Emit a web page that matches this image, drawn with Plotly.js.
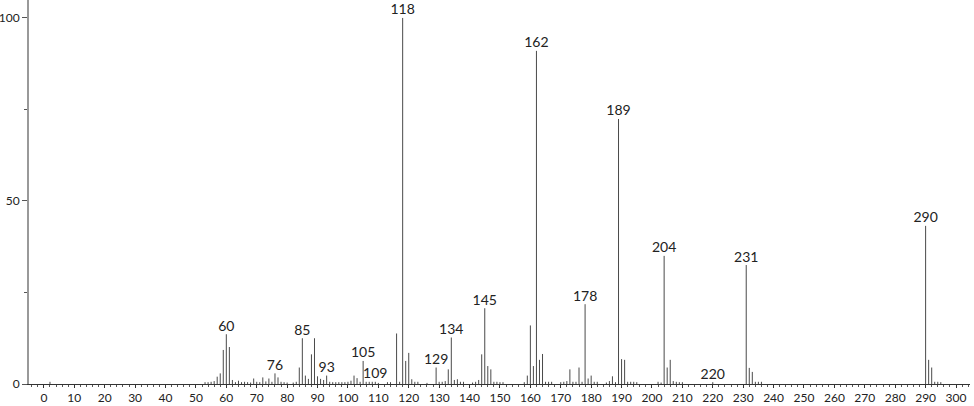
<!DOCTYPE html>
<html>
<head>
<meta charset="utf-8">
<script src="https://cdn.plot.ly/plotly-3.0.1.min.js"></script>
<style>html,body{margin:0;padding:0;background:#fff;}#chart{width:974px;height:406px;}</style>
</head>
<body>
<div id="chart"></div>
<script>
// m/z values and relative intensities
const mz = [2,53,54,55,56,57,58,59,60,61,62,63,64,65,66,67,68,69,70,71,72,73,74,75,76,77,78,79,80,82,83,84,85,86,87,88,89,90,91,92,93,94,95,96,97,98,99,100,101,102,103,104,105,106,107,108,109,110,113,114,116,117,118,119,120,121,122,123,126,129,130,131,132,133,134,135,136,137,138,141,142,143,144,145,146,147,148,149,150,151,158,159,160,161,162,163,164,165,166,167,170,171,172,173,174,175,176,177,178,179,180,181,182,185,186,187,188,189,190,191,192,193,194,195,202,203,204,205,206,207,208,209,210,220,231,232,233,234,235,236,290,291,292,293,294,295];
const intensity = [0.6,0.5,0.5,0.6,0.8,2.0,2.9,9.3,13.6,10.1,1.1,0.5,0.9,0.5,0.6,0.5,0.4,1.5,0.6,0.5,1.8,0.7,1.5,0.6,2.9,1.8,0.6,0.5,0.4,0.4,0.6,4.5,12.5,2.3,1.4,8.1,12.5,2.1,1.4,1.1,2.3,0.6,0.5,0.5,0.5,0.5,0.5,0.6,0.9,2.3,1.6,0.6,6.3,0.6,0.6,0.6,0.6,0.3,0.5,0.5,13.8,0.6,100,6.3,8.5,1.3,0.6,0.6,0.3,4.5,0.6,0.6,0.8,4.0,12.7,1.1,1.3,0.6,0.6,0.4,0.6,1.1,8.1,20.7,4.9,4.0,0.6,0.6,0.5,0.5,0.5,2.3,16.0,4.9,91,6.6,8.2,0.6,0.6,0.6,0.5,0.6,0.8,4.0,0.6,0.6,4.5,0.6,21.8,1.5,2.3,0.6,0.6,0.4,0.8,2.1,0.5,72.4,6.8,6.6,0.6,0.6,0.6,0.5,0.6,0.4,35,4.5,6.6,0.8,0.6,0.5,0.5,0.5,32.5,4.4,3.3,0.6,0.6,0.6,43.2,6.6,4.5,0.6,0.6,0.5];
const labeledPeaks = [60,76,85,93,105,109,118,129,134,145,162,178,189,204,220,231,290];
const xTickVals = [0,10,20,30,40,50,60,70,80,90,100,110,120,130,140,150,160,170,180,190,200,210,220,230,240,250,260,270,280,290,300];
const yTickVals = [0,50,100];

// build stick lines from data
const sx = [], sy = [];
mz.forEach((m, i) => { sx.push(m, m, null); sy.push(0, intensity[i], null); });

const lx = [], ly = [], lt = [];
labeledPeaks.forEach(p => {
  const i = mz.indexOf(p);
  lx.push(p); ly.push(intensity[i]); lt.push(String(p));
});

const font = {family: "Lato, 'Open Sans', sans-serif", size: 14, color: '#222'};
const tickFont = {family: "Lato, 'Open Sans', sans-serif", size: 12, color: '#222'};

const traces = [
  {x: sx, y: sy, type: 'scatter', mode: 'lines', line: {color: '#4a4a4a', width: 1}, hoverinfo: 'skip', showlegend: false},
  {x: lx, y: ly, type: 'scatter', mode: 'text', text: lt, textposition: 'top center', textfont: font, hoverinfo: 'skip', showlegend: false, cliponaxis: false}
];

const layout = {
  width: 974, height: 406,
  margin: {l: 29, r: 4, t: 0, b: 22, pad: 0},
  paper_bgcolor: '#fff', plot_bgcolor: '#fff',
  showlegend: false,
  font: font,
  xaxis: {
    range: [-4.9, 304.6], showgrid: false, zeroline: false,
    showline: true, linecolor: '#333', linewidth: 1,
    tickmode: 'array', tickvals: xTickVals, ticktext: xTickVals.map(String),
    ticks: 'outside', ticklen: 3, tickcolor: '#333', tickwidth: 1,
    minor: {dtick: 2, tick0: 0, ticks: 'outside', ticklen: 2, tickcolor: '#555'},
    tickfont: tickFont, fixedrange: true
  },
  yaxis: {
    range: [0, 104.9], showgrid: false, zeroline: false,
    showline: true, linecolor: '#999', linewidth: 2,
    tickmode: 'array', tickvals: yTickVals, ticktext: yTickVals.map(String),
    ticks: 'outside', ticklen: 5, tickcolor: '#555', tickwidth: 1,
    minor: {tickvals: [25, 75], ticks: 'outside', ticklen: 3, tickcolor: '#555'},
    tickfont: tickFont, fixedrange: true
  }
};

Plotly.newPlot('chart', traces, layout, {displayModeBar: false, staticPlot: true});
</script>
</body>
</html>
